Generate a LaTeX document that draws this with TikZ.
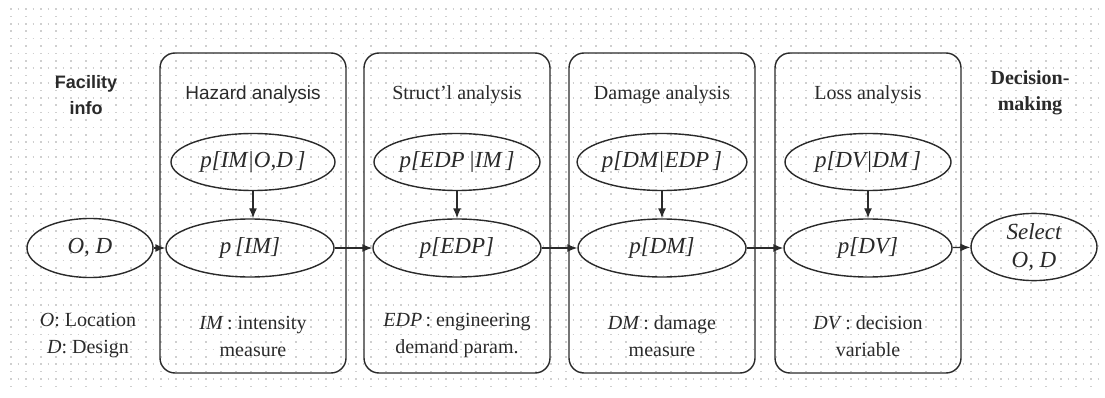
\documentclass[tikz,border=0pt]{standalone}
\usepackage{fontspec}
\setmainfont{Liberation Serif}
\newfontfamily\headsans{Liberation Sans}
\usetikzlibrary{shapes.geometric,arrows.meta}

\definecolor{ink}{HTML}{2A2A2A}
\definecolor{griddot}{HTML}{CFCFCF}

\tikzset{
  panel/.style={draw=ink, line width=1.4pt, rounded corners=15pt},
  oval/.style={ellipse, draw=ink, line width=1.4pt, inner sep=0pt,
    minimum width=168pt, minimum height=58pt,
    font=\fontsize{23}{26}\selectfont\itshape, text=ink},
  endoval/.style={oval, minimum width=126pt, minimum height=59pt},
  head/.style={font=\fontsize{20}{26}\selectfont, text=ink, align=center},
  note/.style={font=\fontsize{20}{27}\selectfont, text=ink, align=center},
  flow/.style={draw=ink, line width=1.4pt, -{Latex[length=10pt,width=8pt]}},
}

\begin{document}
\begin{tikzpicture}[x=1pt, y=-1pt]
  \useasboundingbox (0,0) rectangle (1105,398);
  \fill[white] (0,0) rectangle (1105,398);

  % dotted background grid
  \foreach \r in {0,...,51} {
    \pgfmathsetmacro{\yy}{9+\r*7.4}
    \ifodd\r
      \draw[griddot, line width=1.6pt, dash pattern=on 1.6pt off 13.4pt] (10,\yy) -- (1100,\yy);
    \else
      \draw[griddot, line width=1.6pt, dash pattern=on 1.6pt off 5.9pt] (10,\yy) -- (1100,\yy);
    \fi
  }

  % analysis panels
  \foreach \cx/\nm in {253/haz, 457/str, 662/dam, 868/los} {
    \draw[panel] (\cx-93,53) rectangle (\cx+93,373);
  }

  % panel headings
  \node[head, font=\fontsize{19}{26}\selectfont\headsans] (hhaz) at (253,95) {Hazard analysis};
  \node[head] (hstr) at (457,95) {Struct'l analysis};
  \node[head] (hdam) at (662,95) {Damage analysis};
  \node[head] (hlos) at (868,95) {Loss analysis};
  \node[head, font=\fontsize{18}{26}\selectfont\headsans\bfseries] (hfac) at (86,95) {Facility\\info};
  \node[head, font=\fontsize{20}{26}\selectfont\bfseries] (hdec) at (1030,93) {Decision-\\making};

  % conditional distributions
  \node[oval, minimum width=164pt, minimum height=57pt] (cim)  at (253,162) {p[IM|O,D\,]};
  \node[oval, minimum width=166pt, minimum height=57pt] (cedp) at (457,162) {p[EDP\,|IM\,]};
  \node[oval, minimum width=166pt, minimum height=57pt] (cdm)  at (662,162) {p[DM|EDP\,]};
  \node[oval, minimum width=166pt, minimum height=57pt] (cdv)  at (868,162) {p[DV|DM\,]};

  % main chain
  \node[endoval] (od) at (90,248) {O, D};
  \node[oval] (im)  at (250,248) {p\,[IM]};
  \node[oval] (edp) at (457,248) {p[EDP]};
  \node[oval] (dm)  at (662,248) {p[DM]};
  \node[oval] (dv)  at (868,248) {p[DV]};
  \node[endoval, align=center, font=\fontsize{23}{28}\selectfont\itshape] (sel) at (1034,247) {Select\\O, D};

  % connectors
  \draw[flow] (od) -- (im);
  \draw[flow] (im) -- (edp);
  \draw[flow] (edp) -- (dm);
  \draw[flow] (dm) -- (dv);
  \draw[flow] (dv) -- (sel);
  \draw[flow] (cim.south -| 253,0) -- (im.north -| 253,0);
  \draw[flow] (cedp) -- (edp);
  \draw[flow] (cdm) -- (dm);
  \draw[flow] (cdv) -- (dv);

  % variable definitions
  \node[note] (nod)  at (88,336)  {\textit{O}: Location\\\textit{D}: Design};
  \node[note] (nim)  at (253,336) {\textit{IM}\,: intensity\\measure};
  \node[note] (nedp) at (457,336) {\textit{EDP}\,: engineering\\demand param.};
  \node[note] (ndm)  at (662,336) {\textit{DM}\,: damage\\measure};
  \node[note] (ndv)  at (868,336) {\textit{DV}\,: decision\\variable};
\end{tikzpicture}
\end{document}
